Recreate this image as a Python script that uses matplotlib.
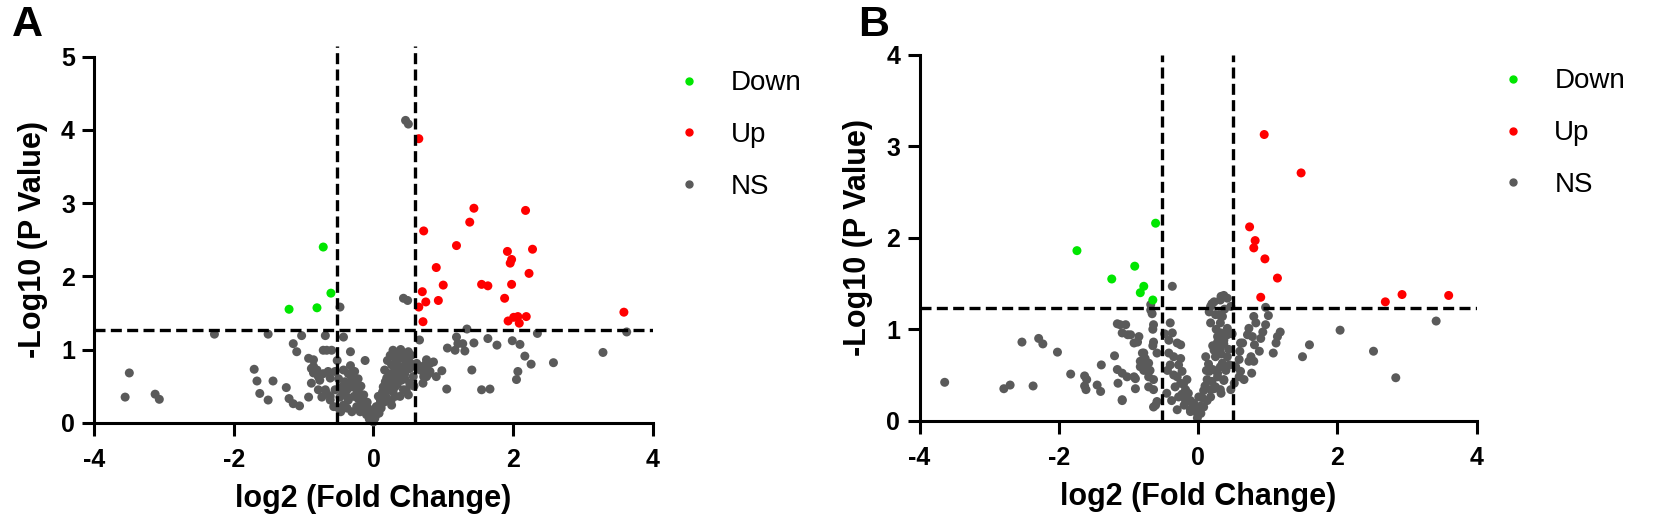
import matplotlib
matplotlib.use("Agg")
import matplotlib.pyplot as plt
from matplotlib.lines import Line2D

plt.rcParams['font.family'] = ['Liberation Sans', 'DejaVu Sans']
plt.rcParams['axes.unicode_minus'] = False

GREEN = '#00e600'
RED = '#ff0000'
GRAY = '#5a5a5a'

# ---- panel A ----
a_down_x = [-0.72, -0.61, -0.81, -1.21]
a_down_y = [2.40, 1.77, 1.57, 1.55]

a_up_x = [0.65, 0.72, 1.44, 1.38, 2.18, 1.19, 2.28, 1.92, 1.98, 1.96, 0.90, 2.23, 1.00, 1.55,
          1.64, 1.98, 0.70, 0.75, 0.93, 0.65, 1.88, 0.71, 1.93, 2.01, 2.07, 2.09, 2.19, 3.59]
a_up_y = [3.88, 2.62, 2.93, 2.74, 2.90, 2.42, 2.37, 2.34, 2.23, 2.18, 2.12, 2.04, 1.88, 1.89,
          1.87, 1.89, 1.79, 1.65, 1.67, 1.58, 1.70, 1.38, 1.39, 1.44, 1.45, 1.36, 1.45, 1.51]

a_ns_x = [-3.50, -3.56, -3.13, -3.07, -2.28, -1.71, -1.67, -1.44, -1.63, -1.51, -1.51, -1.25, -1.21,
          -1.15, -1.06, -1.15, -1.10, -1.03, -0.93, -0.93, -0.86, -0.86, -0.79, -0.72, -0.67, -0.60,
          -0.69, -0.43, -0.48, -0.33, -0.79, -0.74, -0.67, -0.62, -0.57,
          -0.12, -0.86, -0.89, -0.81, -0.72, -0.65, -0.62, -0.77, -0.89, -0.69, -0.62, -0.55, -0.43,
          -0.36, -0.31, -0.41, -0.45, -0.38, -0.31, -0.24, -0.28, -0.36, -0.43, -0.22, -0.17, -0.24,
          -0.31, -0.19, -0.12, -0.10, -0.03, 0.02, 0.00, -0.05, 0.05, 0.09, 0.12, 0.07, 0.16, 0.14,
          0.21, 0.19, 0.24, 0.16, 0.26, 0.24, 0.28, 0.33, 0.38, 0.33, 0.40, 0.31, 0.43, 0.38, 0.45,
          0.47, 0.50, 0.52, 0.52, 0.47, 0.57, 0.62, 0.67, 0.74, 0.79, 0.72, 0.76, 0.81, 0.26, 0.21,
          0.31, 0.28,
          -0.50, -0.48, -0.40, -0.35, -0.26, -0.20, -0.15, -0.08, -0.02, 0.03, 0.08, 0.11, 0.15,
          0.18, 0.23, 0.27, 0.30, 0.35, 0.40, 0.43, 0.36, 0.45, 0.50, 0.55, 0.20,
          -0.47, -0.44, -0.38, -0.33, -0.27, -0.22, -0.18, -0.14, -0.09, -0.06, 0.04, 0.10, 0.13,
          0.17, 0.22, 0.29, 0.34, 0.41, 0.45, 0.50, 0.54, 0.39, 0.30, 0.58, 0.25, -0.52, -0.55, -0.50,
          0.46, 0.50, 0.43, 0.49, 1.34, 1.19, 1.21, 1.28, 1.17, 1.31, 1.44, 1.06, 1.64, 1.77, 1.99,
          2.10, 2.35, 2.17, 2.26, 2.58, 3.29, 3.63, 2.07, 2.05, 1.41, 1.55, 1.67, 1.05, 0.98, 0.66,
          0.81, 0.86, 0.77, 0.90, 0.76, 0.66, 0.71]
a_ns_y = [0.68, 0.35, 0.39, 0.32, 1.21, 0.73, 0.57, 0.57, 0.40, 0.31, 1.21, 0.48, 0.33,
          0.26, 0.23, 1.08, 0.97, 1.19, 0.88, 0.35, 0.77, 0.68, 0.63, 0.99, 0.99, 0.99,
          1.19, 1.17, 1.58, 0.97, 0.45, 0.35, 0.40, 0.31, 0.22,
          0.85, 0.86, 0.74, 0.72, 0.67, 0.70, 0.61, 0.58, 0.54, 0.45, 0.36, 0.45, 0.72,
          0.67, 0.61, 0.56, 0.49, 0.45, 0.49, 0.45, 0.36, 0.31, 0.24, 0.33, 0.26, 0.22,
          0.15, 0.15, 0.17, 0.11, 0.08, 0.06, 0.01, 0.15, 0.17, 0.24, 0.31, 0.36, 0.40, 0.49,
          0.52, 0.61, 0.67, 0.72, 0.79, 0.92, 0.99, 0.85, 0.74, 0.63, 0.58, 0.49, 0.45, 0.36, 0.67,
          0.83, 0.97, 0.74, 0.54, 0.45, 0.63, 0.81, 0.72, 0.79, 0.67, 0.63, 0.86, 0.70, 0.24, 0.31,
          0.36, 0.42,
          0.60, 0.35, 0.38, 0.52, 0.55, 0.40, 0.30, 0.20, 0.12, 0.10, 0.13, 0.20, 0.28,
          0.35, 0.45, 0.55, 0.70, 0.78, 0.88, 0.95, 0.95, 0.60, 0.38, 0.80, 0.85,
          0.15, 0.42, 0.20, 0.78, 0.70, 0.60, 0.50, 0.38, 0.28, 0.05, 0.22, 0.30, 0.42,
          0.56, 0.64, 0.62, 0.52, 0.66, 0.78, 0.88, 0.92, 1.00, 0.90, 0.50, 0.30, 0.85, 0.70, 0.20,
          4.13, 4.08, 1.70, 1.67, 1.28, 1.17, 1.08, 1.08, 0.99, 0.98, 1.09, 1.02, 1.15, 1.06, 1.12,
          1.07, 1.22, 0.91, 0.80, 0.82, 0.96, 1.24, 0.70, 0.59, 0.72, 0.45, 0.46, 0.46, 0.71, 1.13,
          0.81, 0.83, 0.72, 0.63, 0.63, 0.77, 0.54]

# ---- panel B ----
b_down_x = [-1.74, -0.61, -1.24, -0.91, -0.78, -0.83, -0.65]
b_down_y = [1.86, 2.16, 1.55, 1.69, 1.47, 1.40, 1.32]

b_up_x = [0.95, 1.48, 0.74, 0.82, 0.80, 0.96, 1.14, 0.90, 2.69, 2.93, 3.60]
b_up_y = [3.13, 2.71, 2.12, 1.97, 1.89, 1.77, 1.56, 1.35, 1.30, 1.38, 1.37]

b_ns_x = [-3.64, -2.79, -2.70, -2.37, -2.53, -2.29, -2.23, -2.02, -1.83, -1.63, -1.60, -1.63, -1.61,
          -1.45, -1.40, -1.39, -1.20, -1.16, -1.15, -1.09, -1.16, -1.12, -1.01, -0.87, -0.85, -0.92,
          -0.90, -0.78, -0.76, -0.69, -0.65, -0.65, -0.68, -0.71, -0.83, -0.64, -0.59, -0.37,
          -0.68, -0.66, -0.64, -0.64, -0.59, -1.04, -1.09, -0.97, -0.92, -0.80, -0.76, -0.83, -0.71,
          -0.78, -0.90, -0.64, -0.71, -0.64, -0.61, -1.09, -1.09, -1.02,
          -0.40, -0.37, -0.42, -0.30, -0.25, -0.42, -0.35, -0.40, -0.28, -0.44, -0.35, -0.23, -0.16,
          -0.33, -0.18, -0.28, -0.11, -0.20, -0.04, -0.11, 0.04, -0.01, 0.08, 0.13, 0.18, 0.20, 0.16,
          0.28, 0.32, 0.25, 0.32, 0.37, 0.11, 0.25, 0.32, 0.37, 0.28, 0.42, 0.32, 0.18, 0.30, 0.20,
          0.32, 0.42, 0.47, 0.45, 0.47, 0.61, 0.66, 0.73, 0.78, 0.81, 0.76, 0.64,
          -0.48, -0.45, -0.38, -0.30, -0.25, -0.21, -0.14, -0.08, 0.00, 0.06, 0.10, 0.15, 0.21,
          0.26, 0.38, 0.40, 0.44, 0.49, 0.12, -0.30,
          3.42, 2.04, 1.60, 1.50, 2.52, 2.84, 1.18, 1.14, 1.12, 1.08, 1.01, 0.97, 0.97, 0.93, 0.90,
          0.80, 0.83, 0.71, 0.88, 0.80, 0.73, 0.77, 0.61, 0.60, 0.59, 0.54, 0.59, 0.52,
          0.37, 0.33, 0.23, 0.18, 0.16, 0.25, 0.35, 0.33, 0.42, 0.28, 0.37, 0.23, 0.33, 0.42, 0.35,
          0.21, 0.28, 0.13, 0.37, 0.23, 0.08, 0.33, 0.01, 0.18, -0.06, 0.04, -0.11, -0.01, -0.18,
          -0.23, -0.25]
b_ns_y = [0.42, 0.35, 0.39, 0.38, 0.86, 0.90, 0.84, 0.75, 0.51, 0.49, 0.45, 0.38, 0.34,
          0.39, 0.32, 0.61, 0.71, 0.56, 0.41, 0.22, 1.06, 1.05, 0.94, 0.86, 0.92, 0.48,
          0.35, 0.74, 0.62, 0.55, 0.82, 1.00, 1.21, 0.48, 0.59, 0.15, 0.21, 1.47,
          1.27, 1.17, 1.05, 0.86, 0.74, 1.05, 0.96, 0.94, 0.85, 0.74, 0.68, 0.65, 0.63,
          0.55, 0.46, 0.45, 0.37, 0.34, 0.17, 0.52, 0.23, 0.48,
          1.07, 0.96, 0.88, 0.85, 0.83, 0.74, 0.70, 0.61, 0.61, 0.55, 0.50, 0.54, 0.45,
          0.37, 0.34, 0.26, 0.22, 0.17, 0.13, 0.10, 0.08, 0.03, 0.15, 0.22, 0.34, 0.43, 0.54,
          0.52, 0.59, 0.37, 0.34, 0.45, 0.70, 0.70, 0.79, 0.88, 0.92, 1.01, 1.07, 1.07, 1.16, 1.28,
          1.32, 1.34, 1.25, 0.61, 0.34, 0.54, 0.45, 1.01, 0.92, 0.83, 0.70, 0.85,
          0.95, 0.30, 0.22, 0.48, 0.68, 0.40, 0.30, 0.18, 0.14, 0.25, 0.38, 0.62, 0.82,
          1.00, 1.22, 0.55, 0.78, 0.95, 0.55, 0.12,
          1.09, 0.99, 0.83, 0.70, 0.76, 0.47, 0.97, 0.92, 0.85, 0.74, 1.15, 1.24, 1.05, 0.97, 0.90,
          1.14, 1.07, 0.94, 0.76, 0.65, 0.65, 0.52, 0.85, 0.76, 0.67, 0.59, 0.48, 0.41,
          1.37, 1.36, 1.30, 1.25, 1.19, 1.16, 1.14, 0.96, 0.94, 0.86, 0.84, 0.77, 0.73, 0.70, 0.63,
          0.56, 0.48, 0.45, 0.44, 0.35, 0.33, 0.30, 0.26, 0.26, 0.19, 0.16, 0.12, 0.08, 0.22,
          0.29, 0.41]

# cut-offs
a_fc_cut = [-0.52, 0.59]
a_p_cut = 1.27
b_fc_cut = [-0.52, 0.50]
b_p_cut = 1.23

legend_labels = ['Down', 'Up', 'NS']

fig = plt.figure(figsize=(16.54, 5.29), dpi=100)
axA = fig.add_axes([0.0571, 0.2009, 0.3374, 0.6919])
axB = fig.add_axes([0.5560, 0.2047, 0.3367, 0.6914])

dash = (0, (3.3, 1.6))


def volcano(ax, dx, dy, ux, uy, nx, ny, fc_cut, p_cut, ymax, vtop):
    ax.scatter(nx, ny, s=42, color=GRAY, edgecolors='none', zorder=2, clip_on=False)
    ax.scatter(dx, dy, s=42, color=GREEN, edgecolors='none', zorder=3)
    ax.scatter(ux, uy, s=42, color=RED, edgecolors='none', zorder=3)
    for c in fc_cut:
        ax.plot([c, c], [0, vtop], color='black', lw=2.4, ls=dash, zorder=4, clip_on=False)
    ax.plot([-4, 4], [p_cut, p_cut], color='black', lw=2.4, ls=dash, zorder=4)
    ax.set_xlim(-4, 4)
    ax.set_ylim(0, ymax)
    ax.set_xticks([-4, -2, 0, 2, 4])
    ax.set_yticks(range(ymax + 1))
    for s in ['top', 'right']:
        ax.spines[s].set_visible(False)
    for s in ['left', 'bottom']:
        ax.spines[s].set_linewidth(2.2)
    ax.tick_params(width=2.2, length=9, labelsize=18, pad=5)
    ax.tick_params(axis='x', pad=9)
    for lab in ax.get_xticklabels() + ax.get_yticklabels():
        lab.set_fontweight('bold')
    ax.set_xlabel('log2 (Fold Change)', fontsize=22, fontweight='bold', labelpad=9)
    ax.set_ylabel('-Log10 (P Value)', fontsize=22, fontweight='bold')
    ax.yaxis.set_label_coords(-0.083, 0.5)
    handles = [Line2D([], [], ls='none', marker='o', ms=5, color=c) for c in (GREEN, RED, GRAY)]
    ax.legend(handles, legend_labels, loc='upper left', bbox_to_anchor=(1.04, 0.963),
              frameon=False, fontsize=20, handlelength=1.0, handletextpad=1.0,
              labelspacing=0.93, borderpad=0, borderaxespad=0)


volcano(axA, a_down_x, a_down_y, a_up_x, a_up_y, a_ns_x, a_ns_y, a_fc_cut, a_p_cut, 5, 5.15)
volcano(axB, b_down_x, b_down_y, b_up_x, b_up_y, b_ns_x, b_ns_y, b_fc_cut, b_p_cut, 4, 4.0)

fig.text(0.007, 0.99, 'A', fontsize=31, fontweight='bold', va='top', ha='left')
fig.text(0.519, 0.99, 'B', fontsize=31, fontweight='bold', va='top', ha='left')

fig.savefig('out.png', dpi=100)
